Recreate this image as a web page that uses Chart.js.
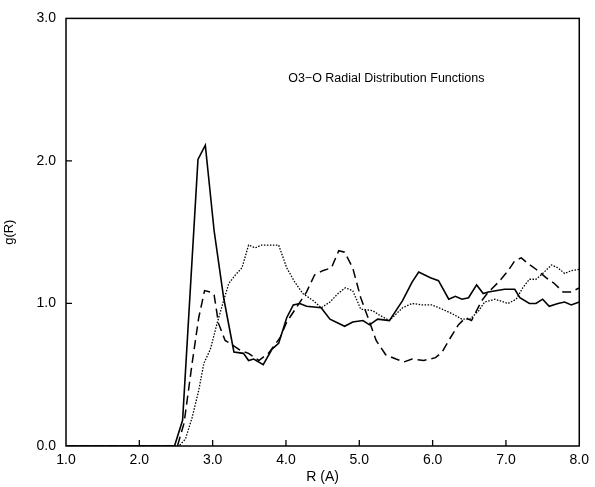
<!DOCTYPE html>
<html>
<head>
<meta charset="utf-8">
<script src="https://cdn.jsdelivr.net/npm/chart.js@4/dist/chart.umd.min.js"></script>
<style>
  html, body { margin: 0; padding: 0; background: #fff; }
  #wrap { width: 595px; height: 487px; }
</style>
</head>
<body>
<div id="wrap"><canvas id="chart" width="595" height="487"></canvas></div>
<script>
// R (A) values and g(R), one pair of arrays per curve
var solidR = [1.0, 2.48, 2.59, 2.80, 2.90, 3.02, 3.15, 3.29, 3.42, 3.49, 3.56, 3.69, 3.81, 3.90, 4.01, 4.10, 4.19, 4.28, 4.48, 4.60, 4.80, 4.91, 5.05, 5.14, 5.25, 5.41, 5.59, 5.72, 5.81, 5.97, 6.08, 6.22, 6.31, 6.40, 6.49, 6.60, 6.69, 6.76, 6.98, 7.12, 7.19, 7.32, 7.41, 7.50, 7.59, 7.71, 7.80, 7.89, 8.0];
var solidG = [0.0, 0.0, 0.18, 2.01, 2.11, 1.51, 1.04, 0.66, 0.65, 0.60, 0.61, 0.57, 0.68, 0.72, 0.90, 0.99, 1.00, 0.98, 0.97, 0.89, 0.84, 0.87, 0.88, 0.85, 0.89, 0.88, 1.02, 1.15, 1.22, 1.18, 1.16, 1.03, 1.05, 1.03, 1.04, 1.13, 1.07, 1.08, 1.10, 1.10, 1.04, 1.00, 1.00, 1.03, 0.98, 1.00, 1.01, 0.99, 1.01];

var dashR = [1.0, 2.52, 2.61, 2.72, 2.81, 2.89, 2.97, 3.02, 3.08, 3.17, 3.24, 3.38, 3.49, 3.63, 3.76, 3.92, 4.01, 4.14, 4.28, 4.39, 4.50, 4.62, 4.72, 4.80, 4.91, 5.02, 5.14, 5.23, 5.36, 5.50, 5.61, 5.72, 5.88, 6.04, 6.13, 6.22, 6.35, 6.45, 6.53, 6.67, 6.76, 6.90, 7.03, 7.12, 7.21, 7.30, 7.41, 7.55, 7.66, 7.78, 7.89, 8.0];
var dashG = [0.0, 0.0, 0.16, 0.58, 0.90, 1.09, 1.08, 1.06, 0.86, 0.74, 0.72, 0.67, 0.65, 0.60, 0.65, 0.76, 0.87, 0.97, 1.08, 1.20, 1.23, 1.25, 1.37, 1.36, 1.25, 1.04, 0.87, 0.74, 0.64, 0.61, 0.59, 0.61, 0.60, 0.62, 0.66, 0.74, 0.85, 0.90, 0.88, 1.02, 1.08, 1.15, 1.23, 1.30, 1.32, 1.28, 1.24, 1.18, 1.14, 1.08, 1.08, 1.11];

var dotR = [1.0, 2.54, 2.63, 2.72, 2.81, 2.88, 2.97, 3.06, 3.15, 3.22, 3.31, 3.40, 3.49, 3.58, 3.67, 3.90, 4.01, 4.12, 4.23, 4.37, 4.48, 4.60, 4.71, 4.81, 4.91, 5.02, 5.18, 5.27, 5.41, 5.59, 5.72, 5.86, 5.99, 6.13, 6.26, 6.40, 6.51, 6.63, 6.71, 6.85, 7.03, 7.14, 7.23, 7.32, 7.41, 7.50, 7.62, 7.71, 7.80, 7.89, 8.0];
var dotG = [0.0, 0.0, 0.05, 0.20, 0.39, 0.58, 0.68, 0.86, 1.02, 1.14, 1.20, 1.25, 1.41, 1.39, 1.41, 1.41, 1.25, 1.15, 1.07, 1.02, 0.97, 1.01, 1.07, 1.11, 1.09, 0.96, 0.95, 0.92, 0.88, 0.97, 1.00, 0.99, 0.99, 0.96, 0.93, 0.89, 0.89, 0.95, 1.01, 1.03, 1.00, 1.03, 1.11, 1.17, 1.17, 1.21, 1.27, 1.25, 1.21, 1.23, 1.24];

var xTicks = [1.0, 2.0, 3.0, 4.0, 5.0, 6.0, 7.0, 8.0];
var yTicks = [0.0, 1.0, 2.0, 3.0];
var chartTitle = 'O3\u2212O Radial Distribution Functions';

function pairs(xs, ys) {
    var out = [];
    for (var i = 0; i < xs.length; i++) out.push({x: xs[i], y: ys[i]});
    return out;
}

var fontFam = '"Liberation Sans", Arial, sans-serif';

/* frame, inward ticks and the label inside the plot */
var framePlugin = {
    id: 'frame',
    afterDraw: function(chart) {
        var ctx = chart.ctx;
        var a = chart.chartArea;
        var xs = chart.scales.x, ys = chart.scales.y;
        ctx.save();
        ctx.strokeStyle = '#000';
        ctx.lineWidth = 1.5;
        ctx.strokeRect(a.left, a.top, a.right - a.left, a.bottom - a.top);
        ctx.lineWidth = 1.3;
        ctx.beginPath();
        xTicks.slice(1, -1).forEach(function(v) {
            var px = xs.getPixelForValue(v);
            ctx.moveTo(px, a.bottom);
            ctx.lineTo(px, a.bottom - 6);
        });
        yTicks.slice(1, -1).forEach(function(v) {
            var py = ys.getPixelForValue(v);
            ctx.moveTo(a.left, py);
            ctx.lineTo(a.left + 6, py);
        });
        ctx.stroke();

        ctx.fillStyle = '#000';
        ctx.font = '12.5px ' + fontFam;
        ctx.textAlign = 'left';
        ctx.textBaseline = 'middle';
        ctx.fillText(chartTitle, xs.getPixelForValue(4.03), ys.getPixelForValue(2.58));
        ctx.restore();
    }
};

var ctx = document.getElementById('chart').getContext('2d');
var chart = new Chart(ctx, {
    type: 'line',
    data: {
        datasets: [{
            data: pairs(solidR, solidG),
            borderColor: '#000',
            borderWidth: 1.6,
            pointRadius: 0,
            tension: 0
        }, {
            data: pairs(dashR, dashG),
            borderColor: '#000',
            borderWidth: 1.5,
            borderDash: [9, 5],
            pointRadius: 0,
            tension: 0
        }, {
            data: pairs(dotR, dotG),
            borderColor: '#000',
            borderWidth: 1.3,
            borderDash: [1.5, 1.5],
            pointRadius: 0,
            tension: 0
        }]
    },
    options: {
        responsive: false,
        animation: false,
        layout: { padding: { top: 17, right: 12, left: 0, bottom: 0 } },
        plugins: {
            legend: { display: false },
            tooltip: { enabled: false }
        },
        scales: {
            x: {
                type: 'linear',
                min: 1, max: 8,
                afterBuildTicks: function(s) { s.ticks = xTicks.map(function(v) { return {value: v}; }); },
                afterFit: function(s) { s.height = 41; },
                grid: { display: false, drawTicks: false },
                border: { display: false },
                ticks: {
                    padding: 6,
                    color: '#000',
                    font: { family: fontFam, size: 14 },
                    maxRotation: 0,
                    callback: function(v) { return v.toFixed(1); }
                },
                title: {
                    display: true,
                    text: 'R (A)',
                    color: '#000',
                    font: { family: fontFam, size: 14 },
                    padding: { top: 0, bottom: 1 }
                }
            },
            y: {
                type: 'linear',
                min: 0, max: 3,
                afterBuildTicks: function(s) { s.ticks = yTicks.map(function(v) { return {value: v}; }); },
                afterFit: function(s) { s.width = 66; },
                grid: { display: false, drawTicks: false },
                border: { display: false },
                ticks: {
                    padding: 10,
                    color: '#000',
                    font: { family: fontFam, size: 14 },
                    callback: function(v) { return v.toFixed(1); }
                },
                title: {
                    display: true,
                    text: 'g(R)',
                    color: '#000',
                    font: { family: fontFam, size: 13 },
                    padding: { top: 2, bottom: 0 }
                }
            }
        }
    },
    plugins: [framePlugin]
});
</script>
</body>
</html>
